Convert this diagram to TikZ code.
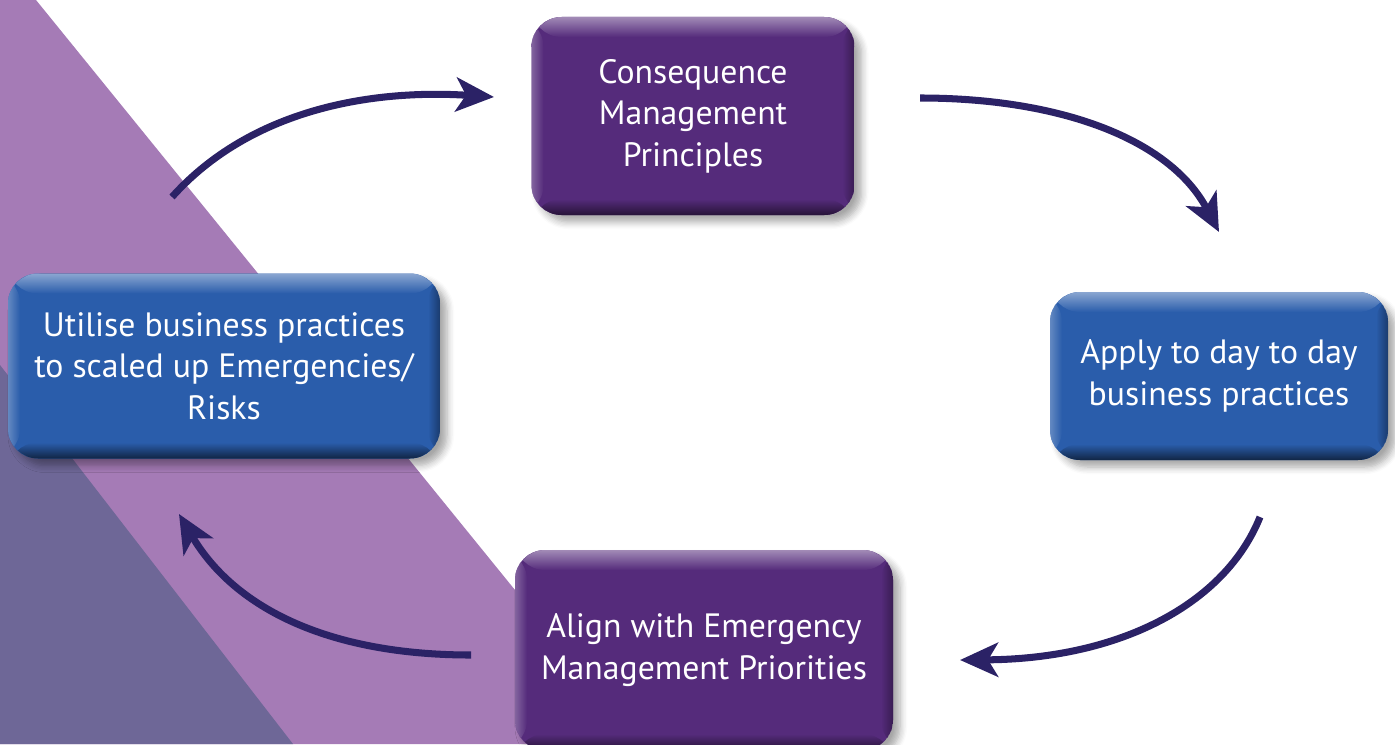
\documentclass[tikz,border=0pt]{standalone}
\usepackage{fontspec}
\setmainfont{PT Sans}
\usepackage{tikz}
\usetikzlibrary{arrows.meta,shadows.blur}

\definecolor{bandlight}{HTML}{A57BB6}
\definecolor{banddark}{HTML}{6E6797}
\definecolor{boxpurple}{HTML}{552B7B}
\definecolor{boxblue}{HTML}{2A5DAB}
\definecolor{arrowblue}{HTML}{2B2266}

\tikzset{
  bevel/.style n args={3}{rectangle, rounded corners=0.3cm, text=white, align=center,
    font=\fontsize{9.6}{11.8}\selectfont,
    blur shadow={shadow xshift=0.07cm, shadow yshift=-0.07cm, shadow blur steps=6, shadow opacity=35},
    path picture={
      \fill[#1] (path picture bounding box.south west) rectangle (path picture bounding box.north east);
      \shade[top color=#2, bottom color=#1] (path picture bounding box.north west) rectangle ([yshift=-0.2cm]path picture bounding box.north east);
      \shade[top color=#1, bottom color=#3] ([yshift=0.16cm]path picture bounding box.south west) rectangle (path picture bounding box.south east);
      \shade[left color=#2, right color=#1, opacity=0.6] (path picture bounding box.south west) rectangle ([xshift=0.12cm]path picture bounding box.north west);
      \shade[left color=#1, right color=#3, opacity=0.6] ([xshift=-0.12cm]path picture bounding box.south east) rectangle (path picture bounding box.north east);
    }},
  purplebox/.style={bevel={boxpurple}{boxpurple!55!white}{boxpurple!45!black}},
  bluebox/.style={bevel={boxblue}{boxblue!55!white}{boxblue!40!black}},
  cycarrow/.style={draw=arrowblue, line width=2pt, -{Stealth[length=0.38cm,width=0.34cm,inset=0.1cm]}}
}

\begin{document}
\begin{tikzpicture}
  \useasboundingbox (0,0) rectangle (13.95,7.44);
  \fill[bandlight] (0,7.44) -- (0.36,7.44) -- (6.40,0) -- (0,0) -- cycle;
  \fill[banddark] (0,3.79) -- (2.93,0) -- (0,0) -- cycle;

  \node[purplebox, minimum width=3.23cm, minimum height=1.98cm] (cmp) at (6.93,6.28) {Consequence\\Management\\Principles};
  \node[bluebox, minimum width=3.38cm, minimum height=1.68cm] (apply) at (12.19,3.68) {Apply to day to day\\business practices};
  \node[purplebox, minimum width=3.78cm, minimum height=2.0cm] (align) at (7.04,0.94) {Align with Emergency\\Management Priorities};
  \node[bluebox, minimum width=4.32cm, minimum height=1.85cm] (utilise) at (2.24,3.78) {Utilise business practices\\to scaled up Emergencies/\\Risks};

  \coordinate (a1s) at (1.72,5.47);
  \coordinate (a1e) at (4.94,6.47);
  \coordinate (a2s) at (9.20,6.46);
  \coordinate (a2e) at (12.19,5.12);
  \coordinate (a3s) at (12.60,2.27);
  \coordinate (a3e) at (9.60,0.84);
  \coordinate (a4s) at (4.71,0.89);
  \coordinate (a4e) at (1.79,2.30);

  \draw[cycarrow] (a1s) .. controls (2.5,6.34) and (3.7,6.55) .. (a1e);
  \draw[cycarrow] (a2s) .. controls (10.6,6.46) and (11.7,6.05) .. (a2e);
  \draw[cycarrow] (a3s) .. controls (12.25,1.40) and (11.2,0.85) .. (a3e);
  \draw[cycarrow] (a4s) .. controls (3.30,0.89) and (2.35,1.35) .. (a4e);
\end{tikzpicture}
\end{document}
